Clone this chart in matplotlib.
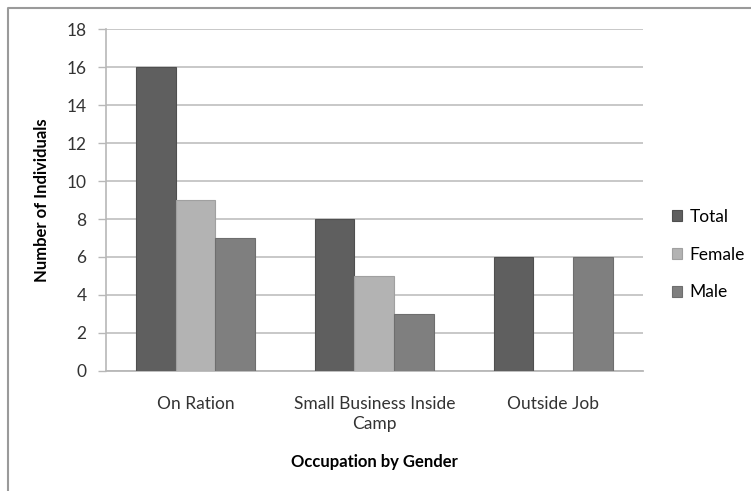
import matplotlib.pyplot as plt
import numpy as np
from matplotlib.lines import Line2D

plt.rcParams['font.family'] = ['Lato', 'DejaVu Sans']

# chart data
categories = ['On Ration', 'Small Business Inside\nCamp', 'Outside Job']
series_names = ['Total', 'Female', 'Male']
total = [16, 8, 6]
female = [9, 5, 0]
male = [7, 3, 6]
y_ticks = [0, 2, 4, 6, 8, 10, 12, 14, 16, 18]

colors = ['#5f5f5f', '#b3b3b3', '#7f7f7f']
edges = ['#4f4f4f', '#a0a0a0', '#6e6e6e']

fig = plt.figure(figsize=(7.51, 4.91), dpi=100)
ax = fig.add_axes([0.1411, 0.245, 0.715, 0.695])

x = np.arange(len(categories))
w = 0.223
for i, (name, vals) in enumerate(zip(series_names, [total, female, male])):
    ax.bar(x + (i - 1) * w, vals, width=w, color=colors[i],
           edgecolor=edges[i], linewidth=0.8, label=name, zorder=3)

ax.set_xlim(-0.5, 2.5)
ax.set_ylim(0, 18)
ax.set_yticks(y_ticks)
ax.set_xticks(x)
ax.set_xticklabels(categories, linespacing=1.35)
ax.tick_params(axis='y', length=6, width=1, color='#b8b8b8', labelsize=12.5,
               labelcolor='#333333', pad=8)
ax.tick_params(axis='x', length=0, labelsize=12.5, labelcolor='#333333', pad=18)
ax.grid(axis='y', color='#c4c4c4', linewidth=1.3, zorder=0)

for s in ['top', 'right']:
    ax.spines[s].set_visible(False)
ax.spines['left'].set_color('#b8b8b8')
ax.spines['left'].set_linewidth(1.2)
ax.spines['bottom'].set_color('#b8b8b8')
ax.spines['bottom'].set_linewidth(1.3)

ax.set_ylabel('Number of Individuals', fontsize=12, fontweight='bold',
              labelpad=12)
ax.set_xlabel('Occupation by Gender', fontsize=12, fontweight='bold',
              labelpad=16)

leg = ax.legend(loc='center left', bbox_to_anchor=(1.025, 0.34), frameon=False,
                fontsize=12.5, handlelength=0.6, handleheight=0.6,
                handletextpad=0.4, labelspacing=1.25)

# outer frame (top and left edges visible)
fig.add_artist(Line2D([0.0107, 0.0107, 1.0], [0.0, 0.984, 0.984],
                      transform=fig.transFigure, color='#9a9a9a', linewidth=1.5))

fig.savefig('out.png', dpi=100)
